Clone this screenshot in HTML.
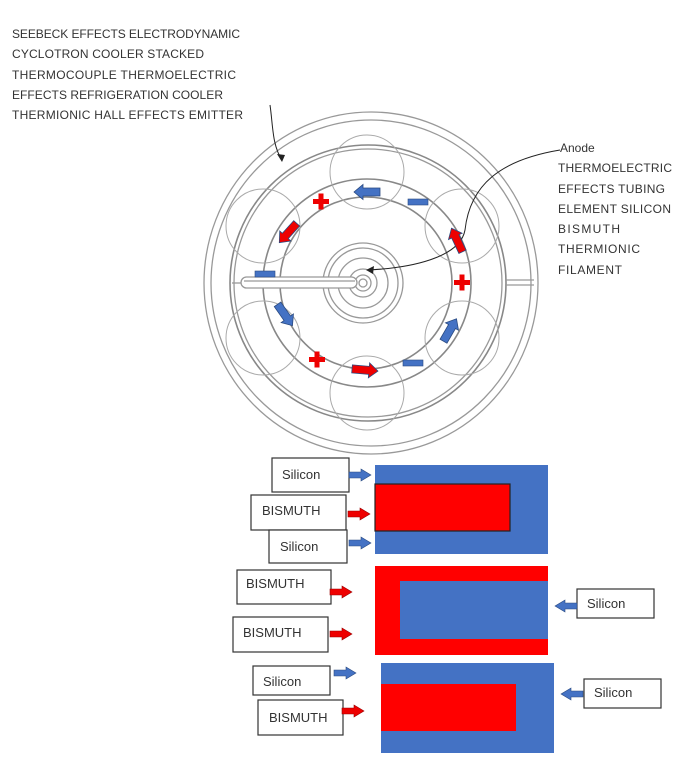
<!DOCTYPE html>
<html><head><style>body{margin:0;background:#fff}svg{display:block}</style></head><body>
<svg width="700" height="778" viewBox="0 0 700 778" xmlns="http://www.w3.org/2000/svg" font-family="Liberation Sans, sans-serif">
<defs>
<g id="ba"><polygon points="-13,-4 4,-4 4,-7.5 13,0 4,7.5 4,4 -13,4" stroke="#2a4a80" stroke-width="0.8"/></g>
<g id="sa"><polygon points="-11,-3 1,-3 1,-6 11,0 1,6 1,3 -11,3"/></g>
</defs>
<g fill="#333" font-size="12">
<text x="12" y="38" textLength="228">SEEBECK EFFECTS ELECTRODYNAMIC</text>
<text x="12" y="58" textLength="192">CYCLOTRON COOLER STACKED</text>
<text x="12" y="79" textLength="224">THERMOCOUPLE THERMOELECTRIC</text>
<text x="12" y="99" textLength="211">EFFECTS REFRIGERATION COOLER</text>
<text x="12" y="119" textLength="231">THERMIONIC HALL EFFECTS EMITTER</text>
<text x="560" y="152">Anode</text>
<text x="558" y="172" textLength="114">THERMOELECTRIC</text>
<text x="558" y="193" textLength="107">EFFECTS TUBING</text>
<text x="558" y="213" textLength="113">ELEMENT SILICON</text>
<text x="558" y="233" textLength="62">BISMUTH</text>
<text x="558" y="253" textLength="82">THERMIONIC</text>
<text x="558" y="274" textLength="64">FILAMENT</text>
</g>
<g fill="none" stroke="#999" stroke-width="1.3">
<ellipse cx="371" cy="283" rx="167" ry="171"/>
<ellipse cx="371" cy="283" rx="160" ry="163"/>
<circle cx="368" cy="283" r="138" stroke="#888" stroke-width="1.6"/>
<circle cx="368" cy="283" r="134"/>
<circle cx="367" cy="283" r="104" stroke="#888" stroke-width="1.6"/>
<circle cx="366" cy="283" r="86" stroke="#888" stroke-width="1.6"/>
<g stroke="#aaa" stroke-width="1">
<circle cx="367" cy="172" r="37"/>
<circle cx="462" cy="226" r="37"/>
<circle cx="462" cy="338" r="37"/>
<circle cx="367" cy="393" r="37"/>
<circle cx="263" cy="338" r="37"/>
<circle cx="263" cy="226" r="37"/>
</g>
<circle cx="363" cy="283" r="40"/>
<circle cx="363" cy="283" r="35"/>
<circle cx="363" cy="283" r="25"/>
<circle cx="363" cy="283" r="14"/>
<circle cx="363" cy="283" r="8"/>
<circle cx="363" cy="283" r="4"/>
<rect x="241" y="277" width="116" height="11" rx="5.5" fill="#fff"/>
<line x1="244" y1="281" x2="355" y2="281"/>
<line x1="232" y1="283" x2="241" y2="283"/>
<line x1="505" y1="280" x2="534" y2="280"/>
<line x1="505" y1="285" x2="534" y2="285"/>
</g>
<g fill="none" stroke="#222" stroke-width="1">
<path d="M270 105 C273 125,272 145,282 160"/>
<path d="M560 150 C500 160,470 185,465 230 C460 258,410 268,368 270"/>
</g>
<polygon points="282,162 277,154 285,155" fill="#222"/>
<polygon points="366,270 374,266 373,274" fill="#222"/>
<g fill="#e00" stroke="#900" stroke-width="0.6">
<use href="#ba" transform="translate(367,192) rotate(180)" fill="#4472c4"/>
<use href="#ba" transform="translate(457,240) rotate(-115)"/>
<use href="#ba" transform="translate(450,330) rotate(-60)" fill="#4472c4"/>
<use href="#ba" transform="translate(365,370) rotate(5)"/>
<use href="#ba" transform="translate(285,315) rotate(55)" fill="#4472c4"/>
<use href="#ba" transform="translate(288,233) rotate(132)"/>
</g>
<g fill="#4472c4" stroke="#2a4a80" stroke-width="0.6">
<rect x="408" y="199" width="20" height="6"/>
<rect x="403" y="360" width="20" height="6"/>
<rect x="255" y="271" width="20" height="6"/>
</g>
<g fill="#e00">
<rect x="313" y="199" width="16" height="5"/><rect x="318.5" y="193.5" width="5" height="16"/>
<rect x="454" y="280" width="16" height="5"/><rect x="459.5" y="274.5" width="5" height="16"/>
<rect x="309" y="357" width="16" height="5"/><rect x="314.5" y="351.5" width="5" height="16"/>
</g>
<rect x="375" y="465" width="173" height="89" fill="#4472c4"/>
<rect x="375" y="484" width="135" height="47" fill="#f00" stroke="#222" stroke-width="1.2"/>
<rect x="375" y="566" width="173" height="89" fill="#f00"/>
<rect x="400" y="581" width="148" height="58" fill="#4472c4"/>
<rect x="381" y="663" width="173" height="90" fill="#4472c4"/>
<rect x="381" y="684" width="135" height="47" fill="#f00"/>
<g fill="#fff" stroke="#333" stroke-width="1.2">
<rect x="272" y="458" width="77" height="34"/>
<rect x="251" y="495" width="95" height="35"/>
<rect x="269" y="530" width="78" height="33"/>
<rect x="237" y="570" width="94" height="34"/>
<rect x="233" y="617" width="95" height="35"/>
<rect x="577" y="589" width="77" height="29"/>
<rect x="253" y="666" width="77" height="29"/>
<rect x="258" y="700" width="85" height="35"/>
<rect x="584" y="679" width="77" height="29"/>
</g>
<g font-size="13" fill="#333">
<text x="282" y="479">Silicon</text>
<text x="262" y="515">BISMUTH</text>
<text x="280" y="551">Silicon</text>
<text x="246" y="588">BISMUTH</text>
<text x="243" y="637">BISMUTH</text>
<text x="587" y="608">Silicon</text>
<text x="263" y="686">Silicon</text>
<text x="269" y="722">BISMUTH</text>
<text x="594" y="697">Silicon</text>
</g>
<g stroke-width="0.6">
<use href="#sa" transform="translate(360,475)" fill="#4472c4" stroke="#2a4a80"/>
<use href="#sa" transform="translate(359,514)" fill="#e00" stroke="#900"/>
<use href="#sa" transform="translate(360,543)" fill="#4472c4" stroke="#2a4a80"/>
<use href="#sa" transform="translate(341,592)" fill="#e00" stroke="#900"/>
<use href="#sa" transform="translate(341,634)" fill="#e00" stroke="#900"/>
<use href="#sa" transform="translate(566,606) rotate(180)" fill="#4472c4" stroke="#2a4a80"/>
<use href="#sa" transform="translate(345,673)" fill="#4472c4" stroke="#2a4a80"/>
<use href="#sa" transform="translate(353,711)" fill="#e00" stroke="#900"/>
<use href="#sa" transform="translate(572,694) rotate(180)" fill="#4472c4" stroke="#2a4a80"/>
</g>
</svg>
</body></html>
